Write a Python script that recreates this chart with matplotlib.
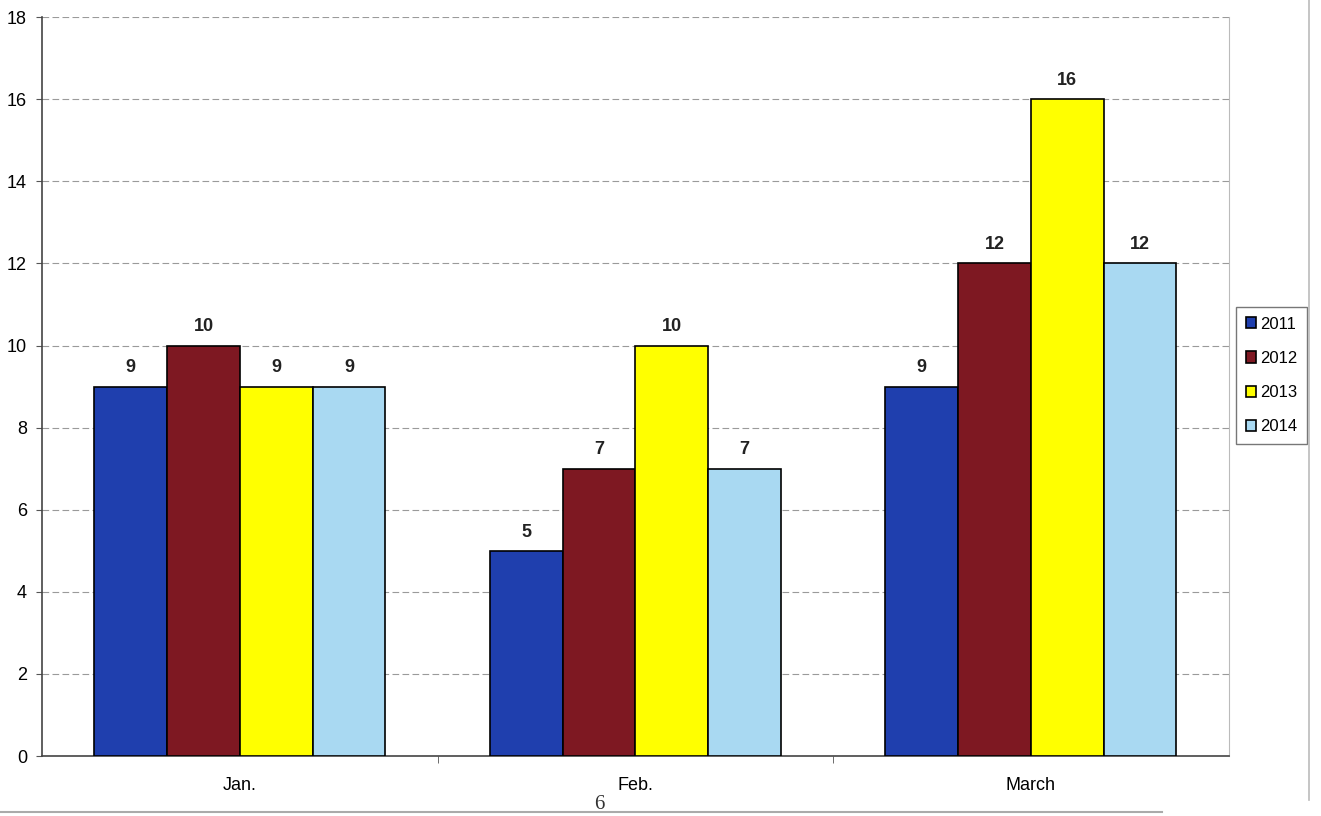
import matplotlib
matplotlib.use("Agg")
import matplotlib.pyplot as plt
import numpy as np

plt.rcParams["font.family"] = ["Liberation Sans", "DejaVu Sans"]

months = ["Jan.", "Feb.", "March"]
years = ["2011", "2012", "2013", "2014"]
v2011 = [9, 5, 9]
v2012 = [10, 7, 12]
v2013 = [9, 10, 16]
v2014 = [9, 7, 12]
series = [v2011, v2012, v2013, v2014]
colors = ["#1f3fae", "#7e1822", "#ffff00", "#a9d9f2"]

fig = plt.figure(figsize=(13.21, 8.16), dpi=100)
ax = fig.add_axes([0.032, 0.0735, 0.898, 0.9055])

x = np.arange(len(months))
w = 0.184
for i, (vals, c, yr) in enumerate(zip(series, colors, years)):
    pos = x + (i - 1.5) * w
    bars = ax.bar(pos, vals, w, color=c, edgecolor="black", linewidth=1.2,
                  label=yr, zorder=3)
    for b, v in zip(bars, vals):
        ax.text(b.get_x() + b.get_width() / 2, v + 0.25, str(v),
                ha="center", va="bottom", fontsize=13, fontweight="bold",
                color="#222222")

ax.set_xlim(-0.5, 2.5)
ax.set_ylim(0, 18)
ax.set_yticks(range(0, 19, 2))
ax.set_xticks(x)
ax.set_xticklabels(months, fontsize=13)
ax.set_xticks([0.5, 1.5], minor=True)
ax.tick_params(axis="x", which="major", length=0, pad=15)
ax.tick_params(axis="x", which="minor", length=5, color="#555555")
ax.tick_params(axis="y", labelsize=13, length=4, color="#555555", pad=7)
ax.yaxis.grid(True, linestyle=(0, (6, 3)), color="#9a9a9a", linewidth=0.8, zorder=0)

ax.spines["top"].set_visible(False)
ax.spines["right"].set_color("#bbbbbb")
ax.spines["left"].set_color("#444444")
ax.spines["bottom"].set_color("#444444")
ax.spines["left"].set_linewidth(1.2)
ax.spines["bottom"].set_linewidth(1.2)

leg = ax.legend(loc="center left", bbox_to_anchor=(1.006, 0.515), fontsize=12,
                frameon=True, fancybox=False, edgecolor="#555555",
                handlelength=0.65, handleheight=0.65, handletextpad=0.2,
                labelspacing=1.15, borderpad=0.6, borderaxespad=0)
leg.get_frame().set_linewidth(1.0)

# page number and rule from the scanned page
fig.text(0.454, 0.003, "6", fontsize=15, family="Liberation Serif",
         ha="center", va="bottom", color="#333333")
fig.add_artist(plt.Line2D([0.0, 0.88], [0.005, 0.005], color="#aaaaaa", lw=1.5))
fig.add_artist(plt.Line2D([0.991, 0.991], [0.02, 1.0], color="#bbbbbb", lw=1.2))

fig.savefig("out.png", dpi=100)
